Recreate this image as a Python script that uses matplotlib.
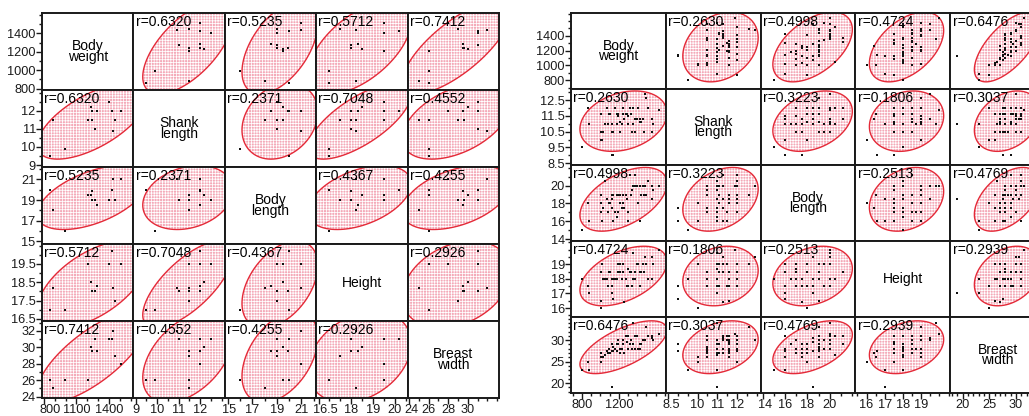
import numpy as np
import matplotlib
matplotlib.use("Agg")
import matplotlib.pyplot as plt
from matplotlib.patches import Polygon
from matplotlib.ticker import FixedLocator, MultipleLocator
from matplotlib.transforms import ScaledTranslation

plt.rcParams['font.family'] = ['Liberation Sans', 'DejaVu Sans']
plt.rcParams['hatch.linewidth'] = 0.55

# ---------------- data ----------------
var_labels = ["Body\nweight", "Shank\nlength", "Body\nlength", "Height", "Breast\nwidth"]

# left matrix (small sample)
left_bw = [862, 881, 996, 1208, 1230, 1240, 1245, 1270, 1283, 1401, 1426, 1432, 1448, 1510]
left_sl = [9.5, 11.5, 9.9, 11.5, 12.2, 12.0, 11.5, 11.0, 12.0, 12.5, 12.0, 10.9, 11.5, 12.0]
left_bl = [20, 18, 16, 19.5, 19.5, 19.9, 19.0, 19.0, 18.5, 19.0, 20.0, 21.0, 19.0, 21.0]
left_h = [17.0, 18.2, 17.0, 19.5, 18.5, 18.0, 18.0, 18.0, 18.3, 19.5, 20.2, 18.2, 17.5, 19.5]
left_brw = [26, 25, 26, 26, 30, 29.5, 29.6, 31, 29.5, 31, 31, 32, 29, 28]
left_r = [[1, 0.6320, 0.5235, 0.5712, 0.7412],
          [0.6320, 1, 0.2371, 0.7048, 0.4552],
          [0.5235, 0.2371, 1, 0.4367, 0.4255],
          [0.5712, 0.7048, 0.4367, 1, 0.2926],
          [0.7412, 0.4552, 0.4255, 0.2926, 1]]

# right matrix (larger sample)
right_bw = [796, 868, 879, 1006, 1006, 1010, 1020, 1050, 1068, 1097, 1122, 1122, 1122, 1140, 1160,
            1177, 1177, 1195, 1213, 1213, 1249, 1260, 1278, 1295, 1303, 1322, 1340, 1351, 1376, 1376,
            1412, 1430, 1430, 1474, 1485, 1496, 1558, 1558, 1575, 1640,
            1104, 1140, 1195, 1230, 1286, 1333, 1358, 1394, 1441, 1467, 1030, 1520, 1085, 1250]
right_sl = [9.5, 12, 11, 10.5, 11.6, 10, 10, 11, 12, 11.6, 9, 10.5, 11, 9, 12,
            11.6, 11, 11.5, 10.5, 11.1, 11.6, 11.3, 11.6, 11, 11.5, 12, 10.5, 11, 11.3, 10.5,
            12, 11.1, 11.3, 10.5, 12.9, 12.6, 10.5, 11.3, 11, 11.9,
            11.6, 10.5, 11.6, 11, 11.6, 11.6, 12, 11.3, 11.1, 11.3, 10.5, 12, 11, 12]
right_bl = [15, 18, 16, 17, 19, 18, 16, 20.5, 18.5, 18, 17.5, 19, 18.5, 16, 17,
            19, 16.5, 17, 19, 18, 18, 17.5, 19, 17, 16, 21.2, 19.5, 20, 21.2, 20,
            18, 20, 16, 19, 20, 19, 20, 18.5, 19.5, 20,
            18, 19, 19, 17.5, 18.5, 19, 20, 20, 19, 20, 17.5, 20.5, 17, 19]
right_h = [18, 17.5, 17, 18.5, 16.5, 16, 19, 18, 18, 18.5, 17.5, 18, 17, 16.6, 18,
           18, 18, 19, 18.5, 19, 18.5, 16.4, 18, 18.7, 17.5, 18.5, 17.5, 19.8, 18.5, 18,
           19, 17.5, 18.5, 18.5, 19.5, 19, 18, 19.5, 19, 20,
           18.5, 18, 18.5, 18, 17.5, 18.5, 18, 19, 18.5, 19, 18, 18, 17.5, 19]
right_brw = [23, 25, 23, 27, 26, 25, 26, 26.5, 27.5, 28, 29, 27.5, 19, 27.5, 28,
             27.5, 29, 30, 28, 27, 29, 27, 31, 28, 31, 29, 28, 34, 31, 28,
             28, 29, 28, 30, 30, 33, 31, 30.5, 30, 31.5,
             27, 28.5, 29, 28, 29.5, 30, 29, 31, 29, 30, 26, 31, 27, 30]
right_r = [[1, 0.2630, 0.4998, 0.4724, 0.6476],
           [0.2630, 1, 0.3223, 0.1806, 0.3037],
           [0.4998, 0.3223, 1, 0.2513, 0.4769],
           [0.4724, 0.1806, 0.2513, 1, 0.2939],
           [0.6476, 0.3037, 0.4769, 0.2939, 1]]

# ticks (major labels, minor step) for y side and x side
left_yticks = [[800, 1000, 1200, 1400], [9, 10, 11, 12], [15, 17, 19, 21], [16.5, 17.5, 18.5, 19.5], [24, 26, 28, 30, 32]]
left_xticks = [[800, 1100, 1400], [9, 10, 11, 12], [15, 17, 19, 21], [16.5, 18, 19, 20], [24, 26, 28, 30]]
left_minor = [100, 0.5, 1, 0.5, 1]
left_lims = [(785, 1620), (8.89, 13.15), (14.75, 22.2), (16.39, 20.59), (23.84, 33.2)]

right_yticks = [[800, 1000, 1200, 1400], [8.5, 9.5, 10.5, 11.5, 12.5], [14, 16, 18, 20], [16, 17, 18, 19], [20, 25, 30]]
right_xticks = [[800, 1200], [8.5, 10, 11, 12], [14, 16, 18, 20], [16, 17, 18, 19], [20, 25, 30]]
right_minor = [100, 0.5, 1, 0.5, 1]
right_lims = [(680, 1710), (8.39, 13.2), (13.8, 22.3), (15.39, 20.59), (17.7, 35.4)]

W, H = 1029, 416
fig = plt.figure(figsize=(W / 100, H / 100), dpi=100)

CHI = np.sqrt(5.991)
theta = np.linspace(0, 2 * np.pi, 200)
bottom_axes = []


def fmt(v):
    return ("%g" % v)


def draw_matrix(x0, y0, cw, ch, data, R, yt, xt, minor, lims):
    n = len(data)
    arr = [np.asarray(d, float) for d in data]
    for i in range(n):
        for j in range(n):
            ax = fig.add_axes([(x0 + j * cw) / W, 1 - (y0 + (i + 1) * ch) / H, cw / W, ch / H])
            ax.set_xlim(*lims[j])
            ax.set_ylim(*lims[i])
            for s in ax.spines.values():
                s.set_linewidth(1.4)
                s.set_color('#1a1a1a')
            ax.tick_params(which='both', direction='out', width=1.0, labelsize=9.2, pad=0.5,
                           colors='#1a1a1a')
            ax.tick_params(which='major', length=4)
            ax.tick_params(which='minor', length=2.5)
            if j == 0:
                ax.yaxis.set_major_locator(FixedLocator(yt[i]))
                ax.yaxis.set_minor_locator(MultipleLocator(minor[i]))
                ax.set_yticklabels([fmt(v) for v in yt[i]])
            else:
                ax.set_yticks([])
                ax.yaxis.set_minor_locator(FixedLocator([]))
            if i == n - 1:
                ax.xaxis.set_major_locator(FixedLocator(xt[j]))
                ax.xaxis.set_minor_locator(MultipleLocator(minor[j]))
                ax.set_xticklabels([fmt(v) for v in xt[j]])
                bottom_axes.append(ax)
            else:
                ax.set_xticks([])
                ax.xaxis.set_minor_locator(FixedLocator([]))
            if i == j:
                ax.text(0.5, 0.5, var_labels[i], ha='center', va='center', fontsize=10,
                        linespacing=0.7, transform=ax.transAxes)
                continue
            xd, yd = arr[j], arr[i]
            mx, my = xd.mean(), yd.mean()
            sx, sy = xd.std(ddof=1), yd.std(ddof=1)
            r = R[i][j]
            S = np.array([[sx * sx, r * sx * sy], [r * sx * sy, sy * sy]])
            L = np.linalg.cholesky(S)
            pts = (L @ np.vstack([CHI * np.cos(theta), CHI * np.sin(theta)])).T + [mx, my]
            ax.add_patch(Polygon(pts, closed=True, facecolor='#f4aab8', edgecolor='white',
                                 linewidth=0, hatch='++++++', zorder=1))
            ax.add_patch(Polygon(pts, closed=True, fill=False, edgecolor='#e42a38',
                                 linewidth=1.0, zorder=2))
            ax.plot(xd, yd, 's', color='#111111', markersize=2.1, markeredgewidth=0, zorder=3)
            ax.text(0.025, 0.975, "r=%.4f" % r, ha='left', va='top', fontsize=10,
                    transform=ax.transAxes, zorder=4)


draw_matrix(42, 13, 91.4, 77, [left_bw, left_sl, left_bl, left_h, left_brw], left_r,
            left_yticks, left_xticks, left_minor, left_lims)
draw_matrix(571, 13, 94.8, 76, [right_bw, right_sl, right_bl, right_h, right_brw], right_r,
            right_yticks, right_xticks, right_minor, right_lims)

# keep the first bottom tick label of each cell inside that cell (as in the reference)
fig.canvas.draw()
renderer = fig.canvas.get_renderer()
for ax in bottom_axes:
    lab = ax.get_xticklabels()[0]
    bb = lab.get_window_extent(renderer)
    axbb = ax.get_window_extent(renderer)
    overflow = (axbb.x0 - 3) - bb.x0
    if overflow > 0:
        lab.set_transform(lab.get_transform() + ScaledTranslation(overflow / 100, 0, fig.dpi_scale_trans))

fig.savefig("out.png", dpi=100)
